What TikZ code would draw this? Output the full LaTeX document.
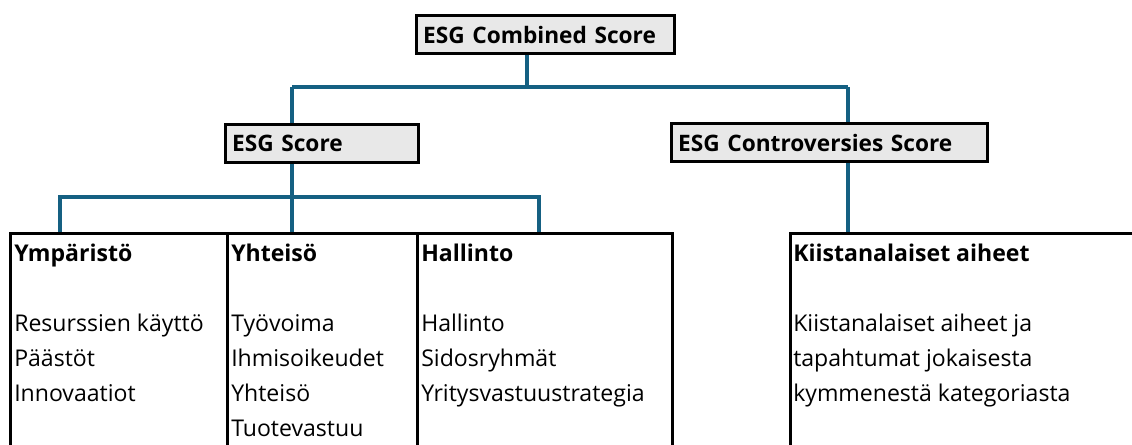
\documentclass[tikz,border=0pt]{standalone}
\usepackage{fontspec}
\setmainfont{Open Sans}
\usetikzlibrary{calc}
\definecolor{linkblue}{HTML}{156082}
\definecolor{boxgray}{HTML}{E8E8E8}

\begin{document}
\begin{tikzpicture}[x=0.75pt, y=-0.75pt,
    scorebox/.style={draw, line width=2.3pt, fill=boxgray, anchor=north west, align=left,
      inner xsep=5pt, inner ysep=0pt, minimum height=28.5pt,
      font=\fontsize{17}{20}\selectfont\bfseries},
    column/.style={draw, line width=2pt, anchor=north west, minimum height=180pt, inner sep=0pt},
    coltext/.style={anchor=north west, align=left, inner sep=0pt,
      font=\fontsize{17.3}{26.25}\selectfont},
    link/.style={draw=linkblue, line width=2.3pt}]
    \useasboundingbox (0,0) rectangle (1132,444);

    % score boxes
    \node[scorebox, text width=183.5pt] (combined) at (415,14) {ESG Combined Score};
    \node[scorebox, text width=134.75pt] (score) at (224,123) {ESG Score};
    \node[scorebox, text width=227pt] (contro) at (670,122) {ESG Controversies Score};

    % table columns
    \node[column, minimum width=162.75pt] (ymp) at (9,232) {};
    \node[column, minimum width=142.5pt] (yht) at (226,232) {};
    \node[column, minimum width=191.25pt] (hal) at (416,232) {};
    \node[column, minimum width=270pt] (kiista) at (789,232) {};

    \node[coltext] (ympt) at ($(ymp.north west)+(5,4.5)$)
        {\strut\textbf{Ympäristö}\\[26.25pt]Resurssien käyttö\\Päästöt\\Innovaatiot};
    \node[coltext] (yhtt) at ($(yht.north west)+(5,4.5)$)
        {\strut\textbf{Yhteisö}\\[26.25pt]Työvoima\\Ihmisoikeudet\\Yhteisö\\Tuotevastuu};
    \node[coltext] (halt) at ($(hal.north west)+(5,4.5)$)
        {\strut\textbf{Hallinto}\\[26.25pt]Hallinto\\Sidosryhmät\\Yritysvastuustrategia};
    \node[coltext] (kiistat) at ($(kiista.north west)+(4,4.5)$)
        {\strut\textbf{Kiistanalaiset aiheet}\\[26.25pt]Kiistanalaiset aiheet ja\\tapahtumat jokaisesta\\kymmenestä kategoriasta};

    % connectors
    \coordinate (jtop) at (527,87);
    \coordinate (jleft) at (292,87);
    \coordinate (jright) at (848,87);
    \coordinate (jlow) at (60,197);
    \coordinate (jhal) at (539,197);
    \draw[link] (combined.south -| jtop) -- (jtop);
    \draw[link] (jleft) -- (jright);
    \draw[link] (jleft) -- (score.north -| jleft);
    \draw[link] (jright) -- (contro.north -| jright);
    \draw[link] (score.south -| jleft) -- (yht.north -| jleft);
    \draw[link] (ymp.north -| jlow) -- (jlow) -- (jhal) -- (hal.north -| jhal);
    \draw[link] (contro.south -| jright) -- (kiista.north -| jright);
\end{tikzpicture}
\end{document}
